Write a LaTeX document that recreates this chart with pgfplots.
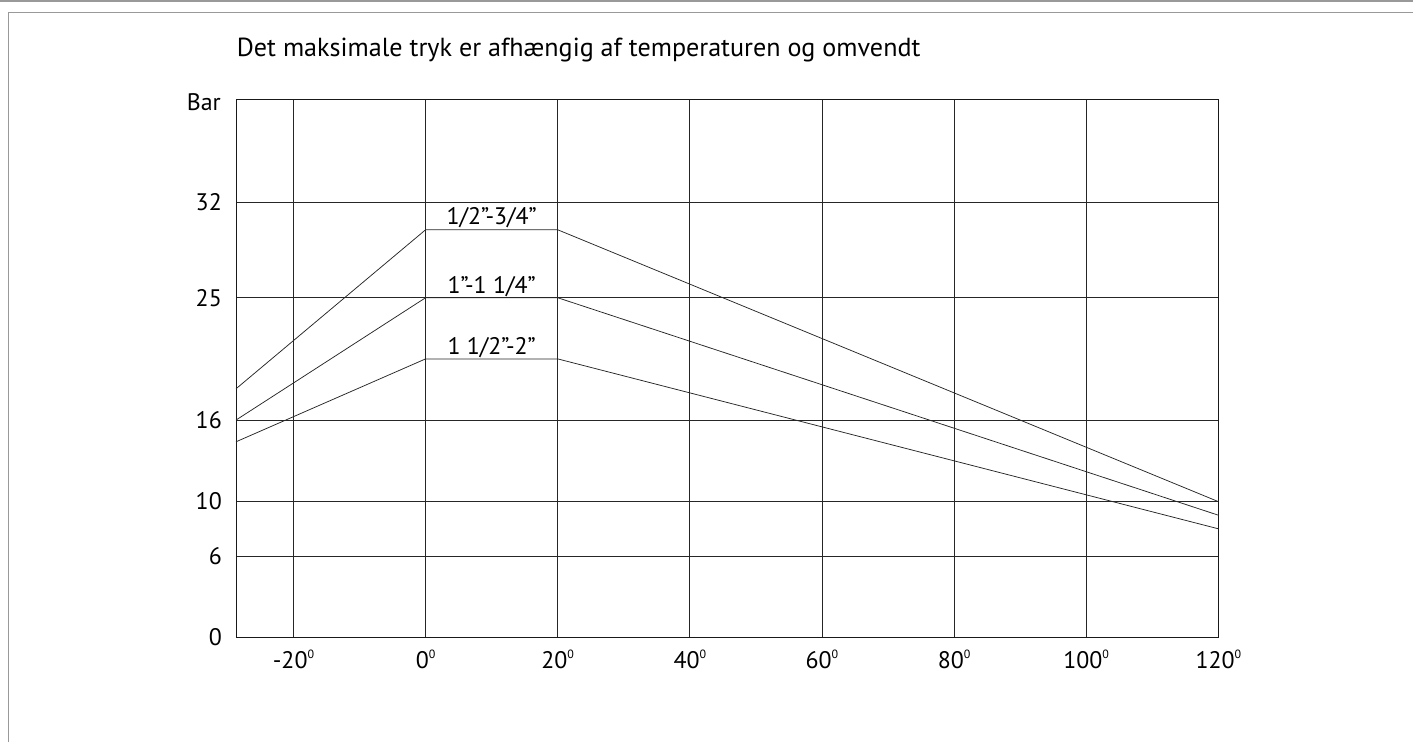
\documentclass[border=0pt]{standalone}
\usepackage{fontspec}
\setmainfont{PT Sans}
\usepackage{pgfplots}
\pgfplotsset{compat=1.18}
\newcommand{\dg}{\raisebox{10bp}{\fontsize{12}{12}\selectfont 0}}
\begin{document}
\begin{tikzpicture}[x=1bp,y=1bp]
\path[use as bounding box] (0,0) rectangle (1413,-742);
\draw[black!40, line width=1.5bp] (0,-1) -- (1413,-1);
\draw[black!40, line width=1.5bp] (8.3,-742) -- (8.3,-12.3) -- (1413,-12.3);
\node[anchor=base west, inner sep=0pt, font=\fontsize{26.2}{30}\selectfont] at (236.7,-57) {Det maksimale tryk er afhængig af temperaturen og omvendt};
\node[anchor=base east, inner sep=0pt, font=\fontsize{24}{28}\selectfont] at (221,-110) {Bar};
\begin{axis}[
  at={(236bp,-637.5bp)}, anchor=south west,
  scale only axis, width=982.3bp, height=538.2bp,
  xmin=-28.7, xmax=120, ymin=0, ymax=39.6,
  xtick={-20,0,20,40,60,80,100,120},
  xticklabels={-20\dg,0\dg,20\dg,40\dg,60\dg,80\dg,100\dg,120\dg},
  ytick={0,6,10,16,25,32},
  /pgf/number format/assume math mode=true,
  grid=major,
  major grid style={black!85, line width=0.8bp},
  axis line style={black!90, line width=0.9bp},
  major tick length=0pt,
  tick label style={font=\fontsize{24}{28}\selectfont, inner sep=0pt},
  xticklabel style={anchor=base, yshift=-30.5bp},
  yticklabel style={anchor=east, xshift=-14bp},
  clip=false,
]
\addplot[black!85, line width=0.75bp] coordinates {(-28.7,18.3) (0,30) (20,30) (120,10)};
\addplot[black!85, line width=0.75bp] coordinates {(-28.7,16) (0,25) (20,25) (120,9)};
\addplot[black!85, line width=0.75bp] coordinates {(-28.7,14.4) (0,20.5) (20,20.5) (120,8)};
\node[anchor=base, inner sep=0pt, font=\fontsize{24}{28}\selectfont, yshift=5bp] at (axis cs:10,30) {1/2”-3/4”};
\node[anchor=base, inner sep=0pt, font=\fontsize{24}{28}\selectfont, yshift=4.5bp] at (axis cs:10,25) {1”-1 1/4”};
\node[anchor=base, inner sep=0pt, font=\fontsize{24}{28}\selectfont, yshift=4.5bp] at (axis cs:10,20.5) {1 1/2”-2”};
\end{axis}
\end{tikzpicture}
\end{document}
